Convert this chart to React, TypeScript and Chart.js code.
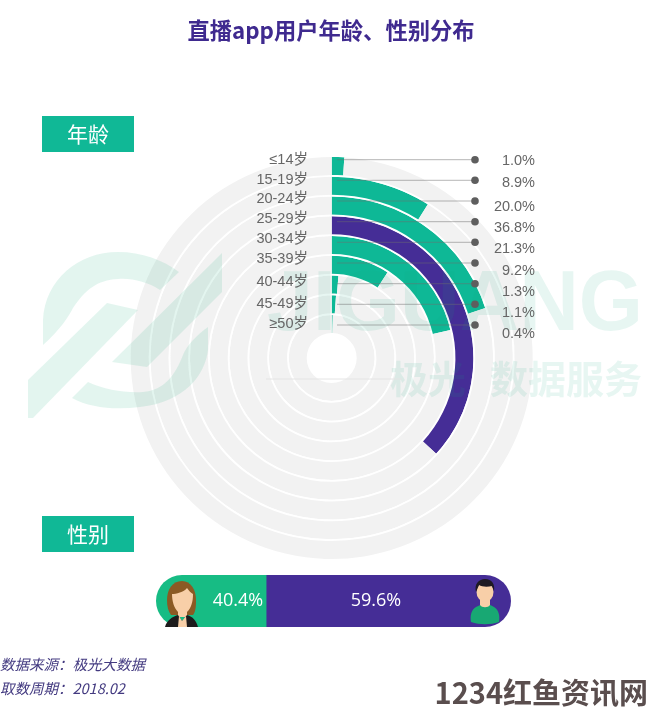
import React, { useEffect, useRef } from "react";
import { Chart, registerables } from "chart.js";

Chart.register(...registerables);

const ageLabels = ["≤14岁", "15-19岁", "20-24岁", "25-29岁", "30-34岁", "35-39岁", "40-44岁", "45-49岁", "≥50岁"];
const ageValues = [1.0, 8.9, 20.0, 36.8, 21.3, 9.2, 1.3, 1.1, 0.4];
const genderLabels = ["女", "男"];
const genderValues = [40.4, 59.6];

const GREEN = "#0eb896";
const PURPLE = "#452d96";
const DISC = "#f2f2f2";
const SANS = '"Liberation Sans", "Noto Sans CJK SC", sans-serif';
const CJK = '"Noto Sans CJK SC", "Liberation Sans", sans-serif';

const labelY = [160, 180, 199, 219, 239, 259, 282, 304, 324];
const valueY = [161, 183, 207, 228, 249, 271, 292, 313, 334];
const lineY = [159.7, 180.3, 201, 221.7, 242.3, 263, 283.7, 304.3, 325];

const logoPaths = [
  "M43 345 L43 320 C45 280 78 252 118 252 C142 252 163 260 179 272 L160 290 C147 282 133 278 118 279 C97 280 85 290 73 308 C69 316 60 330 43 345Z",
  "M28 380 L107 303 L138 310 L33 418 L28 418Z",
  "M222 253 L222 292 L147 367 L112 362Z",
  "M208 327 L208 350 C205 375 185 402 140 407 C115 410 90 408 72 398 L88 382 C105 390 125 393 143 392 C165 390 175 375 183 355 C187 345 197 335 208 327Z",
];

const decor = {
  id: "decor",
  afterDraw(chart: Chart) {
    const c = chart.ctx;
    c.save();
    c.fillStyle = "rgba(24,170,125,0.12)";
    for (const d of logoPaths) c.fill(new Path2D(d));
    c.textBaseline = "middle";
    c.textAlign = "left";
    c.fillStyle = "rgba(24,170,125,0.10)";
    c.font = `bold 86px ${SANS}`;
    c.fillText("JIGUANG", 267, 306, 376);
    c.font = `bold 38px ${CJK}`;
    c.fillText("极光", 390, 379);
    c.fillText("数据服务", 490, 379);

    c.strokeStyle = "#e4e4e4";
    c.lineWidth = 1;
    c.beginPath();
    c.moveTo(266, 379);
    c.lineTo(402, 379);
    c.stroke();

    ageLabels.forEach((label, i) => {
      c.strokeStyle = "rgba(110,110,110,0.5)";
      c.beginPath();
      c.moveTo(337, lineY[i]);
      c.lineTo(475, lineY[i]);
      c.stroke();
      c.fillStyle = "#5e5e5e";
      c.beginPath();
      c.arc(475, lineY[i], 3.8, 0, Math.PI * 2);
      c.fill();
      c.fillStyle = "#666666";
      c.font = `14.5px ${SANS}`;
      c.textAlign = "right";
      c.fillText(label, 308, labelY[i]);
      c.fillText(ageValues[i].toFixed(1) + "%", 535, valueY[i]);
    });

    c.textAlign = "center";
    c.fillStyle = "#3f2a8f";
    c.font = `bold 22.3px ${CJK}`;
    c.fillText("直播app用户年龄、性别分布", 331, 31);

    for (const [text, top] of [["年龄", 116], ["性别", 516]] as [string, number][]) {
      c.fillStyle = "#10b896";
      c.fillRect(42, top, 92, 36);
      c.fillStyle = "#ffffff";
      c.font = `21px ${CJK}`;
      c.textAlign = "center";
      c.fillText(text, 88, top + 18);
    }

    c.textAlign = "left";
    c.fillStyle = "#433a80";
    c.font = `italic 14.5px ${CJK}`;
    c.fillText("数据来源：极光大数据", 0, 664);
    c.fillText("取数周期：2018.02", 0, 688);

    c.fillStyle = "#5a4e4e";
    c.font = `bold 29px ${CJK}`;
    c.textAlign = "right";
    c.fillText("1234红鱼资讯网", 648, 693);
    c.restore();
  },
};

const barLabels = {
  id: "barLabels",
  afterDraw(chart: Chart) {
    const c = chart.ctx;
    c.save();
    c.fillStyle = "#ffffff";
    c.font = `18px "Open Sans", sans-serif`;
    c.textBaseline = "middle";
    c.textAlign = "center";
    c.fillText(genderValues[0].toFixed(1) + "%", 82, 26);
    c.fillText(genderValues[1].toFixed(1) + "%", 220, 26);
    c.restore();
  },
};

export default function App() {
  const ringRef = useRef<HTMLCanvasElement>(null);
  const barRef = useRef<HTMLCanvasElement>(null);

  useEffect(() => {
    const datasets = ageValues.flatMap((v, i) => {
      const ring = {
        data: [v, Number((100 - v).toFixed(1))],
        backgroundColor: [i === 3 ? PURPLE : GREEN, DISC],
        borderWidth: 0,
        weight: 18,
      };
      const gap = { data: [100], backgroundColor: ["#ffffff"], borderWidth: 0, weight: 1.75 };
      return i < ageValues.length - 1 ? [ring, gap] : [ring];
    });
    const ring = new Chart(ringRef.current!, {
      type: "doughnut",
      data: { labels: ageLabels, datasets },
      options: {
        animation: false,
        responsive: false,
        radius: 201,
        cutout: "12.44%",
        layout: { padding: { left: 13.4, bottom: 1 } },
        plugins: { legend: { display: false }, tooltip: { enabled: false } },
      },
      plugins: [decor],
    } as any);

    const bar = new Chart(barRef.current!, {
      type: "bar",
      data: {
        labels: ["性别"],
        datasets: [
          { label: genderLabels[0], data: [genderValues[0]], backgroundColor: "#17bc84", barPercentage: 1, categoryPercentage: 1 },
          { label: genderLabels[1], data: [genderValues[1]], backgroundColor: PURPLE, barPercentage: 1, categoryPercentage: 1 },
        ],
      },
      options: {
        indexAxis: "y",
        animation: false,
        responsive: false,
        scales: {
          x: { stacked: true, display: false, min: 13.6, max: 100 },
          y: { stacked: true, display: false },
        },
        plugins: { legend: { display: false }, tooltip: { enabled: false } },
      },
      plugins: [barLabels],
    } as any);

    return () => {
      ring.destroy();
      bar.destroy();
    };
  }, []);

  return (
    <div style={{ position: "absolute", left: 0, top: 0, width: 650, height: 717, overflow: "hidden", background: "#fff" }}>
      <canvas ref={ringRef} width={650} height={717} style={{ position: "absolute", left: 0, top: 0, display: "block" }} />
      <canvas
        ref={barRef}
        width={355}
        height={52}
        style={{ position: "absolute", left: 156, top: 575, display: "block", borderRadius: 26 }}
      />
      <svg width={650} height={717} style={{ position: "absolute", left: 0, top: 0, pointerEvents: "none" }}>
        <path d="M182 581c-10 0-15 9-15 19 0 6 1 11 4 15l22 0c3-4 3-10 3-15 0-10-5-19-14-19z" fill="#8b5a24" />
        <path d="M172 594c4 0 12-2 15-6 2 3 4 5 6 6 0 8-2 14-6 18l0 5h-9v-5c-4-4-6-11-6-18z" fill="#f8cfa8" />
        <path d="M165 627c2-7 7-10 13-12l4 6 5-6c6 2 9 5 11 12z" fill="#1d1b1c" />
        <path d="M179 616l3 5 4-5 1 11h-9z" fill="#f8cfa8" />
        <path d="M471 622c-1-6 0-12 5-15 4-2 6-3 9-3s6 1 9 3c5 3 6 9 5 15-9 3-19 3-28 0z" fill="#18a873" />
        <path d="M480 598h10v7c-2 3-8 3-10 0z" fill="#f8cfa8" />
        <ellipse cx={485} cy={592} rx={8.5} ry={10} fill="#f8cfa8" />
        <path d="M476 592c-2-8 3-13 9-13 7 0 10 5 9 12l-2-5c-4 1-10 1-13-1z" fill="#1e1a22" />
      </svg>
    </div>
  );
}
